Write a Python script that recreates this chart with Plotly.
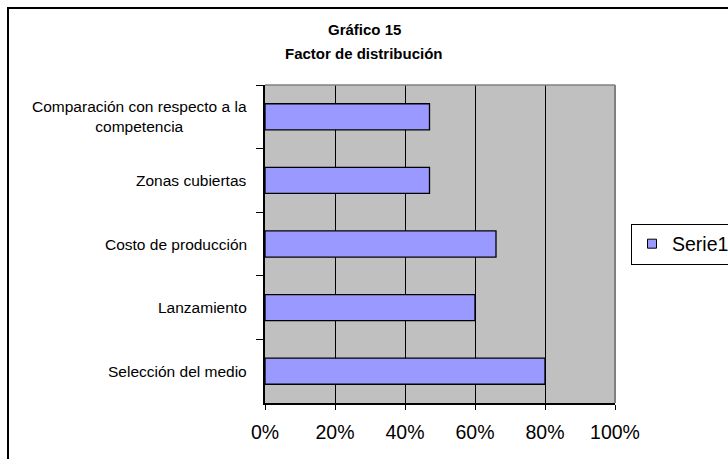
import plotly.graph_objects as go

# ---- data ----
categories = [
    "Comparación con respecto a la<br>competencia",
    "Zonas cubiertas",
    "Costo de producción",
    "Lanzamiento",
    "Selección del medio",
]
values = [0.47, 0.47, 0.66, 0.60, 0.80]
x_ticks = [0, 0.2, 0.4, 0.6, 0.8, 1.0]
x_tick_labels = ["0%", "20%", "40%", "60%", "80%", "100%"]
series_name = "Serie1"
title_line1 = "Gráfico 15"
title_line2 = "Factor de distribución"

# ---- layout geometry (pixels) ----
W, H = 728, 459
PL, PR, PT, PB = 265, 615, 85, 403
FONT = "Liberation Sans, Arial, sans-serif"


def X(px):
    return (px - PL) / (PR - PL)


def Y(py):
    return (PB - py) / (PB - PT)


fig = go.Figure()
fig.add_trace(go.Bar(
    x=values, y=categories, orientation="h",
    marker=dict(color="#9999FF", line=dict(color="#000000", width=1.3)),
    showlegend=False, hoverinfo="skip",
))
# legend entry
fig.add_trace(go.Scatter(
    x=[None], y=[None], mode="markers", name=series_name,
    marker=dict(symbol="square", size=9, color="#9999FF",
                line=dict(color="#000000", width=1)),
))

annotations = [
    dict(text="<b>" + title_line1 + "</b>", xref="paper", yref="paper",
         x=X(364), y=Y(29), xanchor="center", yanchor="middle",
         showarrow=False, font=dict(family=FONT, size=15, color="#000")),
    dict(text="<b>" + title_line2 + "</b>", xref="paper", yref="paper",
         x=X(364), y=Y(53), xanchor="center", yanchor="middle",
         showarrow=False, font=dict(family=FONT, size=15, color="#000")),
]
for c in categories:
    annotations.append(dict(
        text=c, xref="paper", yref="y", x=X(249), y=c,
        xanchor="right", yanchor="middle", align="center", showarrow=False,
        font=dict(family=FONT, size=15.5, color="#000"),
    ))

shapes = [
    # plot area top and right edges (grey)
    dict(type="line", xref="paper", yref="paper", x0=0, x1=1, y0=1, y1=1,
         line=dict(color="#808080", width=1.5), layer="above"),
    dict(type="line", xref="paper", yref="paper", x0=1, x1=1, y0=0, y1=1,
         line=dict(color="#808080", width=2), layer="above"),
    # outer chart border
    dict(type="rect", xref="paper", yref="paper",
         x0=X(8), x1=X(760), y0=Y(480), y1=Y(8),
         line=dict(color="#000000", width=2), fillcolor="rgba(0,0,0,0)",
         layer="above"),
]

fig.update_layout(
    width=W, height=H, autosize=False,
    margin=dict(l=PL, r=W - PR, t=PT, b=H - PB, pad=0, autoexpand=False),
    paper_bgcolor="#FFFFFF", plot_bgcolor="#C0C0C0",
    bargap=0.59,
    font=dict(family=FONT, color="#000"),
    annotations=annotations, shapes=shapes,
    showlegend=True,
    legend=dict(
        x=X(631), y=Y(244), xanchor="left", yanchor="middle",
        bordercolor="#000000", borderwidth=1, bgcolor="#FFFFFF",
        font=dict(family=FONT, size=19.5, color="#000"),
    ),
)
fig.update_xaxes(
    range=[0, 1], tickvals=x_ticks, ticktext=x_tick_labels,
    showgrid=True, gridcolor="#000000", gridwidth=1,
    showline=True, linecolor="#000000", linewidth=1.5,
    ticks="outside", ticklen=5, tickcolor="#000000", tickwidth=1,
    tickfont=dict(family=FONT, size=19.5, color="#000"),
    ticklabelstandoff=6, zeroline=False, fixedrange=True, automargin=False,
)
fig.update_yaxes(
    type="category", range=[4.5, -0.5],
    showgrid=False, showline=True, linecolor="#000000", linewidth=1.5,
    ticks="outside", tickson="boundaries", ticklen=7, tickcolor="#000000",
    showticklabels=False, zeroline=False, fixedrange=True, automargin=False,
)

fig.write_html("out.html")
